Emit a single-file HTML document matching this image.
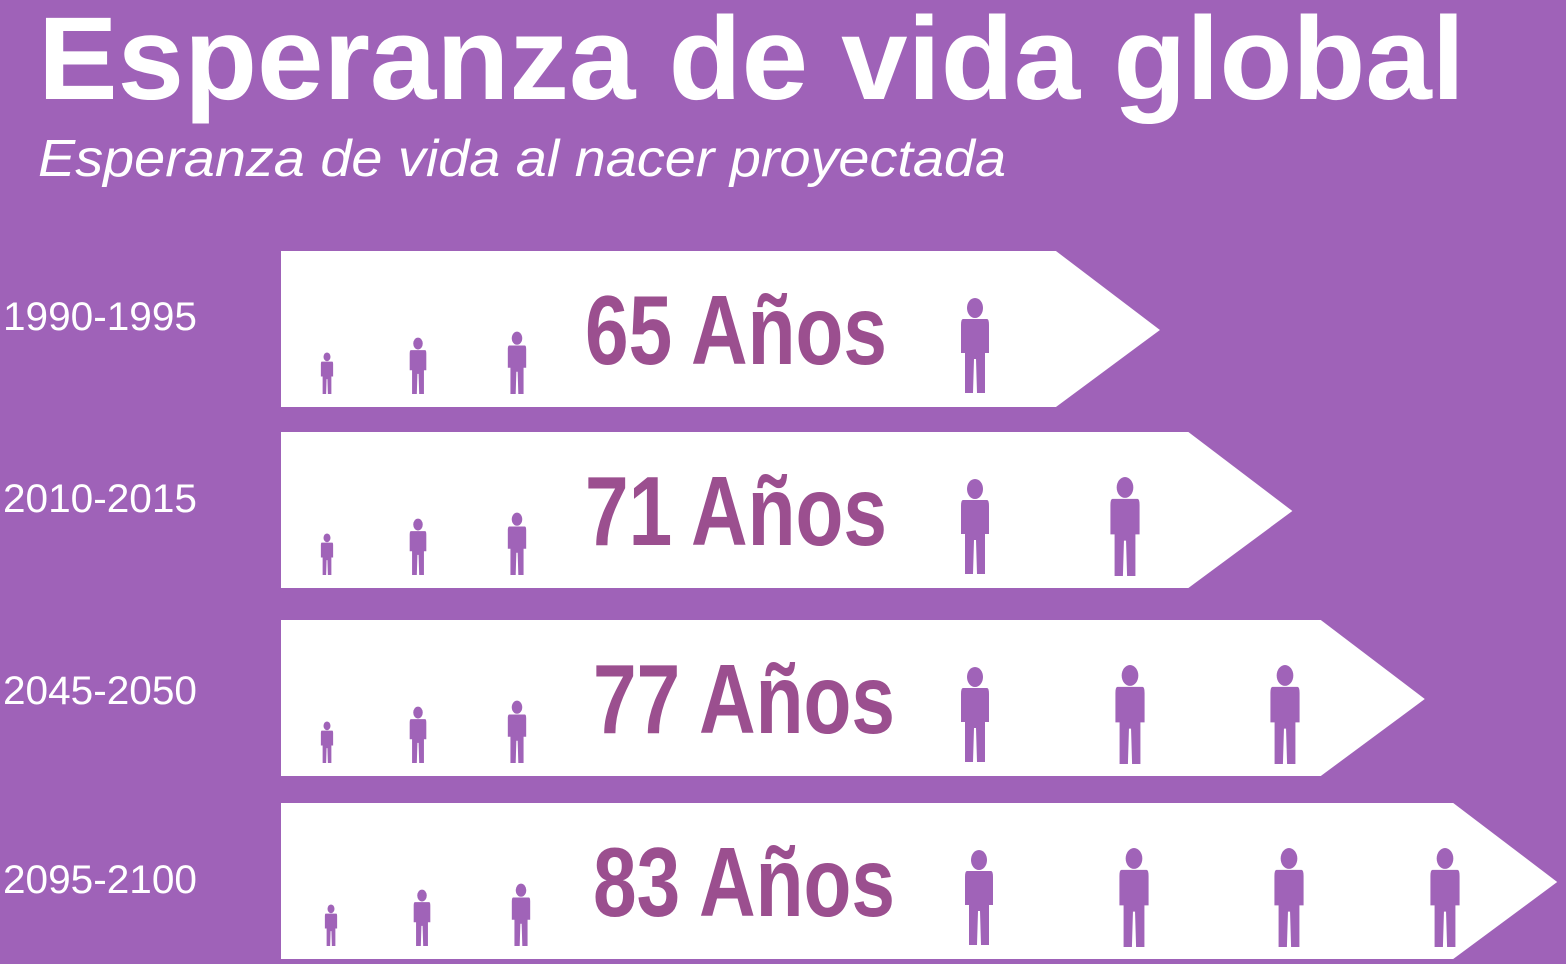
<!DOCTYPE html>
<html><head><meta charset="utf-8"><style>
html,body{margin:0;padding:0;background:#9f62b8;}
svg{display:block;}
</style></head><body>
<svg id="chart" width="1566" height="964" viewBox="0 0 1566 964" xmlns="http://www.w3.org/2000/svg">
<rect x="0" y="0" width="1566" height="964" fill="#9f62b8"/>
<text x="38" y="99" font-family="Liberation Sans, sans-serif" font-weight="bold" font-size="118" fill="#fff" textLength="1427" lengthAdjust="spacingAndGlyphs">Esperanza de vida global</text>
<text x="38" y="176" font-family="Liberation Sans, sans-serif" font-style="italic" font-size="52" fill="#fff" textLength="968" lengthAdjust="spacingAndGlyphs">Esperanza de vida al nacer proyectada</text>
<g id="rows"></g>
</svg>
<script>
const periods = ["1990-1995","2010-2015","2045-2050","2095-2100"];
const lifeYears = [65,71,77,83];
const bigPeople = [1,2,3,4];

const NS="http://www.w3.org/2000/svg";
const g=document.getElementById('rows');
const rowTop=[251,432,620,803];
const labelOff=[0,1,5,11];
const rowH=156;
function tipX(v){return -274.6+v*22.07;}
function person(cx,bottom,h,name){
  const s=h/96;
  const p=document.createElementNS(NS,'g');
  
  
  p.setAttribute('transform','translate('+cx+','+(bottom-h)+') scale('+s+')');
  p.innerHTML='<ellipse cx="0" cy="11" rx="8" ry="10" fill="#a063b8"/>'+
   '<path d="M-12 22 Q-14 22 -14 28 L-14 56 L-10 56 L-10 96 L-2 96 L-1 62 L1 62 L2 96 L10 96 L10 56 L14 56 L14 28 Q14 22 12 22 Z" fill="#a063b8"/>';
  g.appendChild(p);
}
periods.forEach((per,i)=>{
  const top=rowTop[i], bot=top+rowH, mid=top+rowH/2+1;
  const tip=tipX(lifeYears[i]);
  const sh=tip-104;
  const a=document.createElementNS(NS,'path');
  a.setAttribute('d','M281 '+top+' L'+sh+' '+top+' L'+tip+' '+mid+' L'+sh+' '+bot+' L281 '+bot+' Z');
  a.setAttribute('fill','#fff');
  
  
  g.appendChild(a);
  const lab=document.createElementNS(NS,'text');
  lab.setAttribute('x',3);lab.setAttribute('y',mid+labelOff[i]);
  lab.setAttribute('font-family','Liberation Sans, sans-serif');
  lab.setAttribute('font-size','40');lab.setAttribute('fill','#fff');
  lab.setAttribute('textLength','194');lab.setAttribute('lengthAdjust','spacingAndGlyphs');
  lab.textContent=per;
  
  
  g.appendChild(lab);
  const off=i===3?4:0;
  person(327+off,bot-13,42,'child-icon');
  person(418+off,bot-13,57,'teen-icon');
  person(517+off,bot-13,63,'youth-icon');
  const val=document.createElementNS(NS,'text');
  val.setAttribute('x',i>=2?593:585);val.setAttribute('y',top+113);
  val.setAttribute('font-family','Liberation Sans Narrow, Liberation Sans, sans-serif');
  val.setAttribute('font-weight','bold');val.setAttribute('font-size','98');
  val.setAttribute('fill','#9b4f8f');
  val.setAttribute('textLength','302');val.setAttribute('lengthAdjust','spacingAndGlyphs');
  val.textContent=lifeYears[i]+' Años';
  
  
  g.appendChild(val);
  const bx=[975,1125,1285,1441];
  for(let k=0;k<bigPeople[i];k++){
    person(bx[k]+(i===3?4:0)+(k===1&&i>=2?5:0),bot-14+(k>0?2:0),96+(k>0?4:0),'adult-icon');
  }
});
</script>
</body></html>
